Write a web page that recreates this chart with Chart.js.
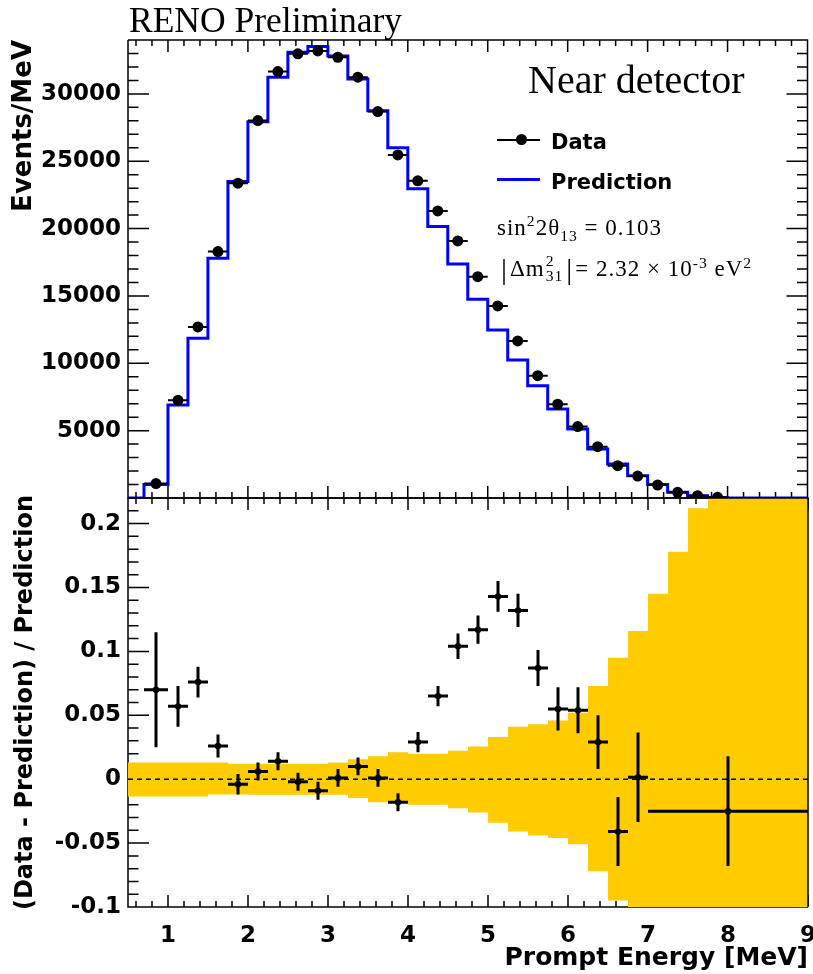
<!DOCTYPE html>
<html>
<head>
<meta charset="utf-8">
<script src="https://cdn.jsdelivr.net/npm/chart.js@4.4.1/dist/chart.umd.min.js"></script>
<style>
  html, body { margin:0; padding:0; background:#fff; }
  #wrap { position:relative; width:813px; height:974px; overflow:hidden; }
  canvas { position:absolute; left:0; }
  #cTop { top:0; }
  #cBot { top:490px; }
  .lbl { position:absolute; white-space:nowrap; line-height:1; color:#000; }
  .serif { font-family:"Liberation Serif", "Times New Roman", serif; }
  .sans { font-family:"DejaVu Sans", sans-serif; font-weight:bold; }
  .lbl sup, .lbl sub { line-height:0; font-size:0.68em; }
  .stack { display:inline-block; vertical-align:-0.28em; font-size:0.68em; line-height:0.95em; margin:0 1px; }
  .stack span { display:block; }
  .bar { font-size:1.3em; vertical-align:-0.1em; margin:0 2px; }
  .key { position:absolute; }
</style>
</head>
<body>
<div id="wrap">
  <canvas id="cTop" width="813" height="505"></canvas>
  <canvas id="cBot" width="813" height="484"></canvas>

  <div class="lbl serif" style="left:129px; top:3px; font-size:35.5px;">RENO Preliminary</div>
  <div class="lbl serif" style="left:528px; top:60px; font-size:40px;">Near detector</div>

  <div class="key" style="left:497px; top:139px; width:43px; height:2px; background:#000;"></div>
  <div class="key" style="left:516px; top:134px; width:11px; height:11px; border-radius:50%; background:#000;"></div>
  <div class="lbl sans" style="left:551px; top:132px; font-size:21px;">Data</div>

  <div class="key" style="left:497px; top:178px; width:43px; height:3px; background:#0000ff;"></div>
  <div class="lbl sans" style="left:551px; top:172px; font-size:21px;">Prediction</div>

  <div class="lbl serif" style="left:497px; top:216px; font-size:23px; letter-spacing:1px;">sin<sup>2</sup>2θ<sub>13</sub> = 0.103</div>
  <div class="lbl serif" style="left:499px; top:254px; font-size:23px; letter-spacing:1px;"><span class="bar">|</span>Δm<span class="stack"><span>2</span><span>31</span></span><span class="bar">|</span>= 2.32 × 10<sup>-3</sup> eV<sup>2</sup></div>
</div>

<script>
// spectrum: prediction histogram (lower bin edges + last upper edge), per MeV
const binEdges = [0.5, 0.7, 1.0, 1.25, 1.5, 1.75, 2.0, 2.25, 2.5, 2.75, 3.0, 3.25, 3.5, 3.75, 4.0,
  4.25, 4.5, 4.75, 5.0, 5.25, 5.5, 5.75, 6.0, 6.25, 6.5, 6.75, 7.0, 7.25, 7.5, 7.75, 8.0, 9.0];
const prediction = [0, 1000, 6900, 11860, 17800, 23490, 27940, 31240, 33090, 33510, 32820, 31110,
  28740, 26010, 22950, 20150, 17380, 14750, 12480, 10250, 8340, 6610, 5120, 3640, 2520, 1660,
  1010, 420, 170, 40, 0];

// spectrum: data points
const dataEnergy = [0.85, 1.125, 1.375, 1.625, 1.875, 2.125, 2.375, 2.625, 2.875, 3.125, 3.375,
  3.625, 3.875, 4.125, 4.375, 4.625, 4.875, 5.125, 5.375, 5.625, 5.875, 6.125, 6.375, 6.625,
  6.875, 7.125, 7.375, 7.625, 7.875];
const dataRate = [1070, 7250, 12700, 18290, 23370, 28020, 31660, 32970, 33190, 32720, 31240,
  28690, 25470, 23550, 21310, 19080, 16430, 14260, 11660, 9080, 6960, 5300, 3810, 2400, 1630,
  965, 420, 170, 50];

// ratio (Data - Prediction) / Prediction
const ratioEdges = [0.7, 1.0, 1.25, 1.5, 1.75, 2.0, 2.25, 2.5, 2.75, 3.0, 3.25, 3.5, 3.75, 4.0,
  4.25, 4.5, 4.75, 5.0, 5.25, 5.5, 5.75, 6.0, 6.25, 6.5, 6.75, 7.0, 9.0];
const ratio = [0.070, 0.057, 0.076, 0.026, -0.004, 0.006, 0.014, -0.002, -0.009, 0.001, 0.010,
  0.001, -0.018, 0.029, 0.065, 0.104, 0.117, 0.143, 0.132, 0.087, 0.055, 0.054, 0.029, -0.041,
  0.0015, -0.025];
const ratioErr = [0.045, 0.016, 0.012, 0.009, 0.008, 0.007, 0.007, 0.007, 0.007, 0.007, 0.007,
  0.007, 0.007, 0.008, 0.008, 0.010, 0.011, 0.012, 0.013, 0.014, 0.017, 0.018, 0.021, 0.027,
  0.035, 0.043];

// systematic uncertainty band
const bandEdges = [0.5, 1.0, 1.25, 1.5, 1.75, 2.0, 2.25, 2.5, 2.75, 3.0, 3.25, 3.5, 3.75, 4.0,
  4.25, 4.5, 4.75, 5.0, 5.25, 5.5, 5.75, 6.0, 6.25, 6.5, 6.75, 7.0, 7.25, 7.5, 7.75, 8.0, 8.25,
  8.5, 8.75, 9.0];
const bandUp = [0.013, 0.013, 0.013, 0.013, 0.012, 0.012, 0.012, 0.012, 0.012, 0.013, 0.0156,
  0.018, 0.021, 0.020, 0.020, 0.0223, 0.0255, 0.033, 0.041, 0.043, 0.046, 0.052, 0.073, 0.095,
  0.116, 0.145, 0.178, 0.212, 0.25, 0.29, 0.33, 0.37, 0.41];
const bandDown = [-0.0136, -0.0136, -0.0136, -0.012, -0.012, -0.0122, -0.0122, -0.0122, -0.0122,
  -0.0122, -0.0148, -0.018, -0.018, -0.020, -0.020, -0.0227, -0.026, -0.034, -0.041, -0.044,
  -0.046, -0.051, -0.072, -0.095, -0.12, -0.15, -0.18, -0.21, -0.25, -0.29, -0.33, -0.37, -0.41];

const xTicks = [1, 2, 3, 4, 5, 6, 7, 8, 9];
const yTopTicks = [5000, 10000, 15000, 20000, 25000, 30000];
const yBotTicks = [-0.1, -0.05, 0, 0.05, 0.1, 0.15, 0.2];

const tickFont = { family: "'DejaVu Sans', sans-serif", weight: 'bold', size: 23 };
const BAND = '#ffcc00';

// histogram as left-edge points plus the closing edge
function stepPoints(edges, vals) {
  return edges.map((e, i) => ({ x: e, y: vals[Math.min(i, vals.length - 1)] }));
}

function minorIdx(min, max, step) {
  const out = [];
  const n0 = Math.ceil(min / step - 1e-9), n1 = Math.floor(max / step + 1e-9);
  for (let n = n0; n <= n1; n++) out.push(n);
  return out;
}

// keep the plot box exactly where the axis widths put it
function noLabelPadding(s) {
  s.paddingLeft = 0; s.paddingRight = 0; s.paddingTop = 0; s.paddingBottom = 0;
}

// ROOT-like frame: ticks pointing inward on all four sides
function drawFrame(chart, o, after) {
  const { ctx, chartArea: a, scales: { x, y } } = chart;
  ctx.save();
  ctx.strokeStyle = '#000';
  ctx.lineWidth = 1.5;
  ctx.beginPath();
  if (!after) {
    minorIdx(x.min, x.max, o.xMinor).forEach(n => {
      const px = x.getPixelForValue(n * o.xMinor);
      const len = n % o.xPer === 0 ? o.xLen : o.xLen / 2;
      ctx.moveTo(px, a.bottom); ctx.lineTo(px, a.bottom - len);
      ctx.moveTo(px, a.top); ctx.lineTo(px, a.top + len);
    });
    minorIdx(y.min, y.max, o.yMinor).forEach(n => {
      const py = y.getPixelForValue(n * o.yMinor);
      const len = n % o.yPer === 0 ? o.yLen : o.yLen / 2;
      ctx.moveTo(a.left, py); ctx.lineTo(a.left + len, py);
      ctx.moveTo(a.right, py); ctx.lineTo(a.right - len, py);
    });
    ctx.moveTo(a.left, a.top); ctx.lineTo(a.left, a.bottom); ctx.lineTo(a.right, a.bottom);
  }
  if (after === !!o.frameOnTop) {
    ctx.moveTo(a.left, a.top); ctx.lineTo(a.right, a.top); ctx.lineTo(a.right, a.bottom);
  }
  ctx.stroke();
  ctx.restore();
}

const rootFrame = {
  id: 'rootFrame',
  beforeDatasetsDraw(chart, args, o) { drawFrame(chart, o, false); },
  afterDatasetsDraw(chart, args, o) { drawFrame(chart, o, true); }
};

const errorBars = {
  id: 'errorBars',
  afterDatasetsDraw(chart, args, o) {
    const { ctx, chartArea: a, scales: { x, y } } = chart;
    const pts = chart.data.datasets[o.index].data;
    ctx.save();
    ctx.beginPath();
    ctx.rect(a.left, a.top, a.right - a.left, a.bottom - a.top);
    ctx.clip();
    ctx.strokeStyle = '#000';
    ctx.lineWidth = o.width;
    ctx.beginPath();
    pts.forEach(p => {
      const px = x.getPixelForValue(p.x), py = y.getPixelForValue(p.y);
      ctx.moveTo(x.getPixelForValue(p.xMin), py);
      ctx.lineTo(x.getPixelForValue(p.xMax), py);
      if (p.yMin !== undefined) {
        ctx.moveTo(px, y.getPixelForValue(p.yMin));
        ctx.lineTo(px, y.getPixelForValue(p.yMax));
      }
    });
    ctx.stroke();
    ctx.restore();
  }
};

const dataPts = dataEnergy.map((e, i) => ({
  x: e, y: dataRate[i], xMin: binEdges[i + 1], xMax: binEdges[i + 2]
}));
const ratioPts = ratio.map((r, i) => ({
  x: (ratioEdges[i] + ratioEdges[i + 1]) / 2, y: r,
  xMin: ratioEdges[i], xMax: ratioEdges[i + 1],
  yMin: r - ratioErr[i], yMax: r + ratioErr[i]
}));

// top panel: energy spectrum
new Chart(document.getElementById('cTop'), {
  type: 'line',
  data: {
    datasets: [
      { type: 'scatter', data: dataPts, pointRadius: 5.5, pointBackgroundColor: '#000',
        pointBorderColor: '#000', borderWidth: 0, showLine: false, order: 1 },
      { data: stepPoints(binEdges, prediction), stepped: true, borderColor: '#0000ff',
        borderWidth: 3, pointRadius: 0, fill: false, order: 2 }
    ]
  },
  options: {
    responsive: false,
    animation: false,
    layout: { padding: { top: 40, right: 5, left: 0, bottom: 7 } },
    plugins: {
      legend: { display: false },
      tooltip: { enabled: false },
      rootFrame: { xMinor: 0.2, xPer: 5, xLen: 12, yMinor: 1000, yPer: 5, yLen: 21 },
      errorBars: { index: 0, width: 2 }
    },
    scales: {
      x: { type: 'linear', min: 0.5, max: 9, display: false },
      y: {
        type: 'linear', min: 0, max: 34000,
        afterBuildTicks: s => { s.ticks = yTopTicks.map(v => ({ value: v })); },
        afterFit: s => { s.width = 128; noLabelPadding(s); },
        grid: { display: false, drawTicks: false },
        border: { display: false },
        ticks: { font: tickFont, color: '#000', padding: 7, callback: v => String(v) },
        title: { display: true, text: 'Events/MeV', align: 'end', color: '#000',
          font: { family: "'DejaVu Sans', sans-serif", weight: 'bold', size: 26 },
          padding: { top: 9, bottom: 0 } }
      }
    }
  },
  plugins: [rootFrame, errorBars]
});

// bottom panel: relative difference
new Chart(document.getElementById('cBot'), {
  type: 'line',
  data: {
    datasets: [
      { data: stepPoints(bandEdges, bandUp), stepped: true, borderColor: 'rgba(0,0,0,0)',
        borderWidth: 0, pointRadius: 0, fill: false, order: 4 },
      { data: stepPoints(bandEdges, bandDown), stepped: true, borderColor: 'rgba(0,0,0,0)',
        borderWidth: 0, pointRadius: 0, fill: '-1', backgroundColor: BAND, order: 3 },
      { data: [{ x: 0.5, y: 0 }, { x: 9, y: 0 }], borderColor: '#000', borderWidth: 1.5,
        borderDash: [5, 4], pointRadius: 0, fill: false, order: 2 },
      { type: 'scatter', data: ratioPts, pointRadius: 3.2, pointBackgroundColor: '#000',
        pointBorderColor: '#000', borderWidth: 0, showLine: false, order: 1 }
    ]
  },
  options: {
    responsive: false,
    animation: false,
    layout: { padding: { top: 8, right: 5, left: 0, bottom: 0 } },
    plugins: {
      legend: { display: false },
      tooltip: { enabled: false },
      rootFrame: { xMinor: 0.2, xPer: 5, xLen: 12, yMinor: 0.01, yPer: 5, yLen: 21, frameOnTop: true },
      errorBars: { index: 3, width: 3 }
    },
    scales: {
      x: {
        type: 'linear', min: 0.5, max: 9,
        afterBuildTicks: s => { s.ticks = xTicks.map(v => ({ value: v })); },
        afterFit: s => { s.height = 67; noLabelPadding(s); },
        grid: { display: false, drawTicks: false },
        border: { display: false },
        ticks: { font: tickFont, color: '#000', padding: 15, maxRotation: 0 },
        title: { display: true, text: 'Prompt Energy [MeV]', align: 'end', color: '#000',
          font: { family: "'DejaVu Sans', sans-serif", weight: 'bold', size: 25 },
          padding: { top: 0, bottom: 1 } }
      },
      y: {
        type: 'linear', min: -0.1, max: 0.22,
        afterBuildTicks: s => { s.ticks = yBotTicks.map(v => ({ value: v })); },
        afterFit: s => { s.width = 128; noLabelPadding(s); },
        grid: { display: false, drawTicks: false },
        border: { display: false },
        ticks: { font: tickFont, color: '#000', padding: 7,
          callback: v => String(Math.round(v * 100) / 100) },
        title: { display: true, text: '(Data - Prediction) / Prediction', color: '#000',
          font: { family: "'DejaVu Sans', sans-serif", weight: 'bold', size: 24 },
          padding: { top: 11, bottom: 0 } }
      }
    }
  },
  plugins: [rootFrame, errorBars]
});
</script>
</body>
</html>
